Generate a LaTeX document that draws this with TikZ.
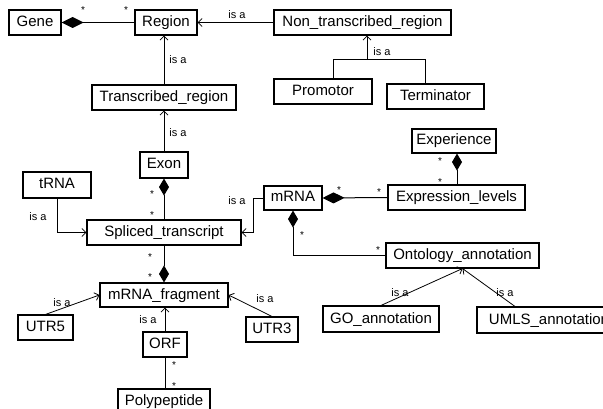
\documentclass[tikz,border=0pt]{standalone}
\usepackage{fontspec}
\setmainfont{Liberation Sans}
\usetikzlibrary{arrows.meta,calc}
\begin{document}
\begin{tikzpicture}[x=1pt,y=-1pt,
 box/.style={draw, line width=1.1pt, inner sep=0pt, text height=11pt, text depth=3pt, font=\fontsize{15}{18}\selectfont},
 isa/.style={draw, line width=0.8pt, -{Straight Barb[length=4pt,width=8pt,line width=0.8pt]}},
 comp/.style={draw, line width=1pt, {Diamond[length=22pt,width=11pt]}-},
 compv/.style={draw, line width=1pt, {Diamond[length=17pt,width=10pt]}-},
 plain/.style={draw, line width=1pt},
 lbl/.style={font=\fontsize{11}{13}\selectfont, inner sep=0pt},
 star/.style={font=\fontsize{10}{12}\selectfont, inner sep=0pt, yshift=-2pt}]
\clip (0,0) rectangle (603,409);
\fill[white] (0,0) rectangle (603,409);

% boxes
\node[box, minimum width=52, minimum height=25] (gene) at (35,22.5) {Gene};
\node[box, minimum width=62, minimum height=25] (region) at (166,22.5) {Region};
\node[box, minimum width=177, minimum height=25] (nontr) at (362.5,22.5) {Non\_transcribed\_region};
\node[box, minimum width=144, minimum height=25] (trans) at (164,97.5) {Transcribed\_region};
\node[box, minimum width=98, minimum height=25] (prom) at (323,91.5) {Promotor};
\node[box, minimum width=97, minimum height=25] (term) at (435.5,96.5) {Terminator};
\node[box, minimum width=48, minimum height=26] (exon) at (164,165) {Exon};
\node[box, minimum width=68, minimum height=26] (trna) at (57,185) {tRNA};
\node[box, minimum width=154, minimum height=25] (spliced) at (164,232.5) {Spliced\_transcript};
\node[box, minimum width=58, minimum height=24] (mrna) at (293,198) {mRNA};
\node[box, minimum width=137, minimum height=25] (expr) at (456.5,197.5) {Expression\_levels};
\node[box, minimum width=84, minimum height=24] (exper) at (454,141) {Experience};
\node[box, minimum width=153, minimum height=25] (onto) at (462.5,255.5) {Ontology\_annotation};
\node[box, minimum width=128, minimum height=24] (frag) at (164,295) {mRNA\_fragment};
\node[box, minimum width=55, minimum height=25] (utr5) at (45.5,327.5) {UTR5};
\node[box, minimum width=52, minimum height=25] (utr3) at (272,329.5) {UTR3};
\node[box, minimum width=44, minimum height=25] (orf) at (165,344.5) {ORF};
\node[box, minimum width=92, minimum height=25] (poly) at (164,401.5) {Polypeptide};
\node[box, minimum width=116, minimum height=26] (go) at (381,319) {GO\_annotation};
\node[box, minimum width=144, minimum height=26] (umls) at (549,320) {UMLS\_annotation};

% helper coordinates
\coordinate (pj) at (333,60);
\coordinate (tj) at (425,60);
\coordinate (nj) at (367,60);
\coordinate (xj) at (457,0);
\coordinate (mj) at (253,0);
\coordinate (uj) at (515,0);

% connectors
\path[comp] (gene.east) -- (region.west);
\node[star] at (83,8) {*};
\node[star] at (126,8) {*};

\path[isa] (nontr.west) -- (region.east);
\node[lbl] at (237,15) {is a};

\path[isa] (trans.north) -- (trans.north |- region.south);
\node[lbl] at (178,60) {is a};

\path[plain] (prom.north -| pj) -- (pj) -- (tj) -- (term.north -| tj);
\path[isa] (nj) -- (nj |- nontr.south);
\node[lbl] at (382,52) {is a};

\path[isa] (exon.north) -- (exon.north |- trans.south);
\node[lbl] at (178,133) {is a};

\path[compv] (exon.south) -- (exon.south |- spliced.north);
\node[star] at (152,192) {*};
\node[star] at (152,213) {*};

\path[isa] (trna.south) |- (spliced.west);
\node[lbl] at (38,217) {is a};

\path[isa] (mrna.west) -- (mrna.west -| mj) |- (spliced.east);
\node[lbl] at (237,201) {is a};

\path[comp] (mrna.east) -- (expr.west);
\node[star] at (339,188) {*};
\node[star] at (379,190) {*};

\path[compv] (exper.south -| xj) -- (expr.north -| xj);
\node[star] at (440,159) {*};
\node[star] at (440,180) {*};

\path[compv] (mrna.south) |- (onto.west);
\node[star] at (302,233) {*};
\node[star] at (378,248) {*};

\path[compv] (frag.north) -- (frag.north |- spliced.south);
\node[star] at (150,255) {*};
\node[star] at (150,275) {*};

\path[isa] (utr5.north) -- (frag.west);
\node[lbl] at (62,303) {is a};

\path[isa] (utr3.north) -- (frag.east);
\node[lbl] at (265,299) {is a};

\path[isa] (orf.north) -- (orf.north |- frag.south);
\node[lbl] at (148,320) {is a};

\path[plain] (orf.south) -- (orf.south |- poly.north);
\node[star] at (174,363) {*};
\node[star] at (174,384) {*};

\path[isa] (go.north) -- (onto.south);
\node[lbl] at (400,293) {is a};
\path[isa] (umls.north -| uj) -- (onto.south);
\node[lbl] at (505,293) {is a};
\end{tikzpicture}
\end{document}
